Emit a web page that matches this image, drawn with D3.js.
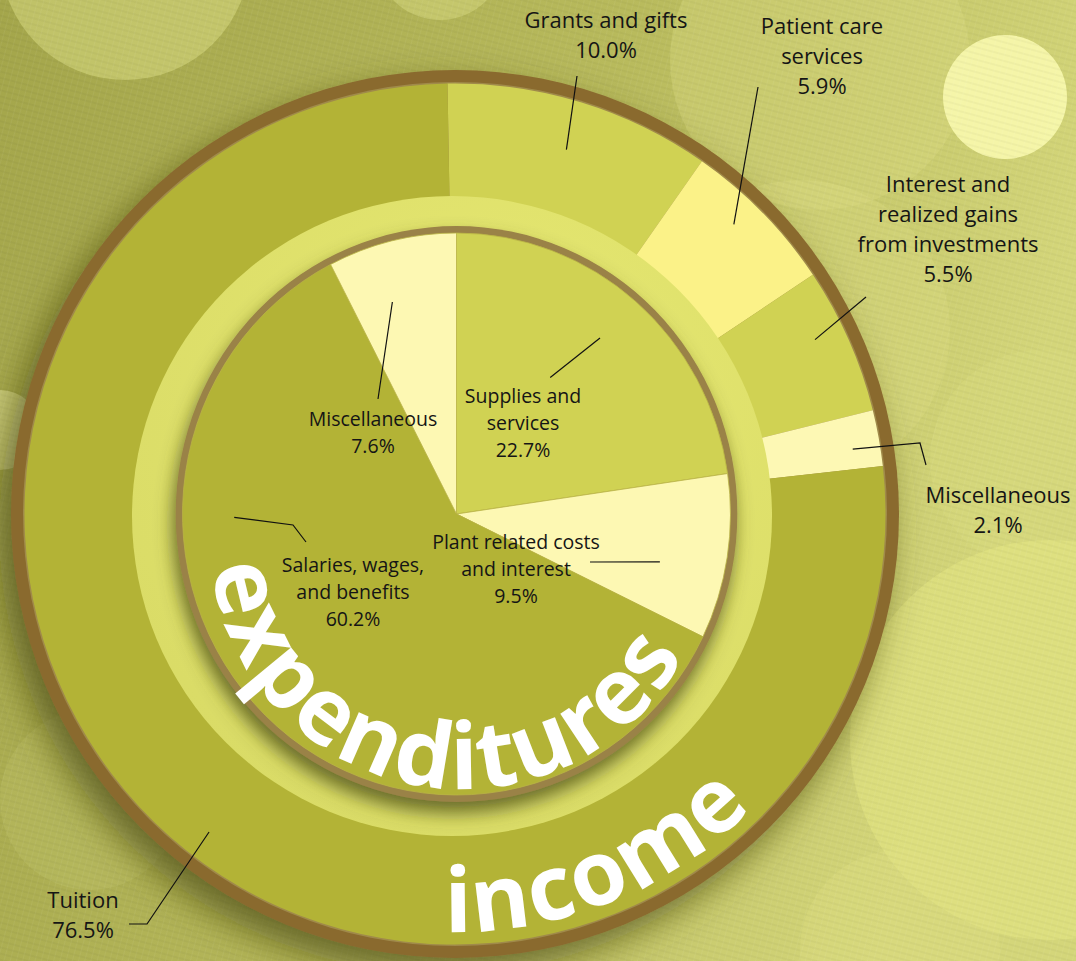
<!DOCTYPE html>
<html>
<head>
<meta charset="utf-8">
<script src="https://cdn.jsdelivr.net/npm/d3@7"></script>
<style>
  body { margin: 0; background: #b4b65a; }
  svg { display: block; }
  text { font-family: "Open Sans", sans-serif; }
</style>
</head>
<body>
<script>
const width = 1076,
  height = 961;

// income (outer ring)
const incomeCategories = ['Grants and gifts', 'Patient care services', 'Interest and realized gains from investments', 'Miscellaneous', 'Tuition'];
const incomeValues = [10.0, 5.9, 5.5, 2.1, 76.5];
const incomeLabels = [['Grants and gifts'], ['Patient care', 'services'], ['Interest and', 'realized gains', 'from investments'], ['Miscellaneous'], ['Tuition']];

// expenditures (inner pie)
const expenseCategories = ['Supplies and services', 'Plant related costs and interest', 'Salaries, wages, and benefits', 'Miscellaneous'];
const expenseValues = [22.7, 9.5, 60.2, 7.6];
const expenseLabels = [['Supplies and', 'services'], ['Plant related costs', 'and interest'], ['Salaries, wages,', 'and benefits'], ['Miscellaneous']];

const incomeColors = ['#d0d253', '#fbf288', '#d0d253', '#fdf8b4', '#b3b336'];
const expenseColors = ['#d0d253', '#fdf8b3', '#b3b336', '#fdf8b3'];

// label placement: where the leader leaves the slice, then elbows, then text
const incomeLayout = [
  { frac: 0.5, r: 381, tx: 606, ty: 20, via: [[577, 76]] },
  { frac: 0.42, r: 402, tx: 822, ty: 26, via: [[758, 87]] },
  { frac: 0.40, r: 400, tx: 948, ty: 184, via: [[866, 297]] },
  { frac: 0.62, r: 403, tx: 998, ty: 495, via: [[920, 443], [926, 465]] },
  { frac: 0.487, r: 402, tx: 83, ty: 900, via: [[147, 924], [129, 924]] }
];
const expenseLayout = [
  { frac: 0.43, r: 167, tx: 523, ty: 396, via: [[600, 338]] },
  { frac: 0.62, r: 214, tx: 516, ty: 542, via: [[590, 562]] },
  { frac: 0.707, r: 228, tx: 353, ty: 565, via: [[293, 525], [306, 542]] },
  { frac: 0.37, r: 222, tx: 373, ty: 419, via: [[378, 399]] }
];

const outer = { cx: 455, cy: 514 };
const inner = { cx: 456.5, cy: 514, sx: 0.975 };

const svg = d3.select('body').append('svg')
  .attr('width', width)
  .attr('height', height);

const defs = svg.append('defs');

const bg = defs.append('linearGradient').attr('id', 'bg')
  .attr('x1', 0).attr('y1', 0).attr('x2', 1).attr('y2', 0.25);
bg.append('stop').attr('offset', 0).attr('stop-color', '#a4a64b');
bg.append('stop').attr('offset', 0.55).attr('stop-color', '#b8ba5c');
bg.append('stop').attr('offset', 1).attr('stop-color', '#d4d67a');

const tex = defs.append('pattern').attr('id', 'tex')
  .attr('width', 6).attr('height', 6)
  .attr('patternUnits', 'userSpaceOnUse')
  .attr('patternTransform', 'rotate(15)');
tex.append('line').attr('x1', 0).attr('y1', 0).attr('x2', 0).attr('y2', 6)
  .attr('stroke', '#fff').attr('stroke-opacity', 0.09);
tex.append('line').attr('x1', 0).attr('y1', 3).attr('x2', 6).attr('y2', 3)
  .attr('stroke', '#000').attr('stroke-opacity', 0.05);

const discShadow = defs.append('filter').attr('id', 'discShadow')
  .attr('x', '-20%').attr('y', '-20%').attr('width', '140%').attr('height', '140%');
discShadow.append('feDropShadow')
  .attr('dx', -12).attr('dy', 16).attr('stdDeviation', 18)
  .attr('flood-color', '#44460f').attr('flood-opacity', 0.7);

const pieShadow = defs.append('filter').attr('id', 'pieShadow')
  .attr('x', '-20%').attr('y', '-20%').attr('width', '140%').attr('height', '140%');
pieShadow.append('feDropShadow')
  .attr('dx', -3).attr('dy', 11).attr('stdDeviation', 9)
  .attr('flood-color', '#50511c').attr('flood-opacity', 0.8);

const bezelGrad = defs.append('radialGradient').attr('id', 'bezel')
  .attr('cx', '60%').attr('cy', '30%').attr('r', '75%');
bezelGrad.append('stop').attr('offset', 0).attr('stop-color', '#e6e872');
bezelGrad.append('stop').attr('offset', 1).attr('stop-color', '#d9db66');

// background
svg.append('rect').attr('width', width).attr('height', height).attr('fill', 'url(#bg)');

const bokeh = [
  [125, -45, 125, '#e2e48c', 0.45],
  [440, -45, 65, '#e2e48c', 0.4],
  [820, 60, 150, '#dcde84', 0.35],
  [800, 330, 150, '#dcde84', 0.35],
  [1005, 97, 62, '#fbfbb2', 0.85],
  [1040, 460, 110, '#dadc80', 0.4],
  [1050, 740, 200, '#e6e884', 0.5],
  [0, 430, 40, '#ececa4', 0.5],
  [90, 800, 90, '#c8ca72', 0.25],
  [900, 950, 100, '#e0e284', 0.3]
];
svg.append('g').selectAll('circle')
  .data(bokeh)
  .enter().append('circle')
  .attr('cx', d => d[0]).attr('cy', d => d[1]).attr('r', d => d[2])
  .attr('fill', d => d[3]).attr('fill-opacity', d => d[4]);

svg.append('rect').attr('width', width).attr('height', height).attr('fill', 'url(#tex)');

// outer ring
const og = svg.append('g').attr('transform', `translate(${outer.cx},${outer.cy})`);
og.append('circle').attr('r', 444).attr('fill', '#8a6a2e').attr('filter', 'url(#discShadow)');
og.append('circle').attr('r', 432).attr('fill', '#a08a4a');

const start = -1 * Math.PI / 180;
const incomePie = d3.pie().sort(null)
  .startAngle(start).endAngle(start + 2 * Math.PI);
const incomeArcs = incomePie(incomeValues);
const incomeArc = d3.arc().innerRadius(300).outerRadius(430.5);

og.selectAll('path.income')
  .data(incomeArcs)
  .enter().append('path')
  .attr('class', 'income')
  .attr('d', incomeArc)
  .attr('fill', (d, i) => incomeColors[i]);

// bezel
svg.append('circle').attr('cx', 452).attr('cy', 516).attr('r', 320).attr('fill', 'url(#bezel)');

// inner pie
const ig = svg.append('g').attr('transform', `translate(${inner.cx},${inner.cy}) scale(${inner.sx},1)`);
ig.append('circle').attr('r', 288).attr('fill', '#9a8246').attr('filter', 'url(#pieShadow)');

const expensePie = d3.pie().sort(null);
const expenseArcs = expensePie(expenseValues);
const expenseArc = d3.arc().innerRadius(0).outerRadius(281);

ig.selectAll('path.expense')
  .data(expenseArcs)
  .enter().append('path')
  .attr('class', 'expense')
  .attr('d', expenseArc)
  .attr('fill', (d, i) => expenseColors[i])
  .attr('stroke', '#b9b445')
  .attr('stroke-width', 0.8);

// curved titles
function arcPath(cx, cy, r, a0, a1) {
  const p0 = [cx + r * Math.cos(a0 * Math.PI / 180), cy + r * Math.sin(a0 * Math.PI / 180)];
  const p1 = [cx + r * Math.cos(a1 * Math.PI / 180), cy + r * Math.sin(a1 * Math.PI / 180)];
  const large = Math.abs(a0 - a1) > 180 ? 1 : 0;
  return `M${p0[0]},${p0[1]} A${r},${r} 0 ${large} 0 ${p1[0]},${p1[1]}`;
}

defs.append('path').attr('id', 'expPath').attr('d', arcPath(461.6, 537, 252, 190, -10));
defs.append('path').attr('id', 'incPath').attr('d', arcPath(outer.cx, outer.cy, 418, 100, 20));

svg.append('text')
  .attr('fill', '#fff')
  .attr('font-size', 92)
  .attr('font-weight', 700)
  .attr('letter-spacing', 2.5)
  .append('textPath')
  .attr('href', '#expPath')
  .attr('startOffset', 252 * 17 * Math.PI / 180)
  .text('expenditures');

svg.append('text')
  .attr('fill', '#fff')
  .attr('font-size', 90)
  .attr('font-weight', 700)
  .attr('letter-spacing', 2)
  .append('textPath')
  .attr('href', '#incPath')
  .attr('startOffset', 418 * 8.6 * Math.PI / 180)
  .text('income');

// labels and leaders
const line = d3.line();

function slicePoint(d, frac, r, c) {
  const a = d.startAngle + (d.endAngle - d.startAngle) * frac;
  return [c.cx + (c.sx || 1) * r * Math.sin(a), c.cy - r * Math.cos(a)];
}

function drawLabels(arcs, layout, names, c, fontSize, lineHeight) {
  const lg = svg.append('g');
  arcs.forEach((d, i) => {
    const L = layout[i];
    const pts = [slicePoint(d, L.frac, L.r, c)].concat(L.via);
    lg.append('path')
      .attr('d', line(pts))
      .attr('fill', 'none')
      .attr('stroke', '#111')
      .attr('stroke-width', 1.2);
    const lines = names[i].concat(d3.format('.1f')(d.data) + '%');
    const t = lg.append('text')
      .attr('x', L.tx)
      .attr('y', L.ty + fontSize * 0.36)
      .attr('text-anchor', 'middle')
      .attr('font-size', fontSize)
      .attr('fill', '#151515');
    lines.forEach((s, j) => {
      t.append('tspan')
        .attr('x', L.tx)
        .attr('dy', j === 0 ? 0 : lineHeight)
        .text(s);
    });
  });
}

drawLabels(incomeArcs, incomeLayout, incomeLabels, outer, 22, 30);
drawLabels(expenseArcs, expenseLayout, expenseLabels, inner, 19.5, 27);
</script>
</body>
</html>
